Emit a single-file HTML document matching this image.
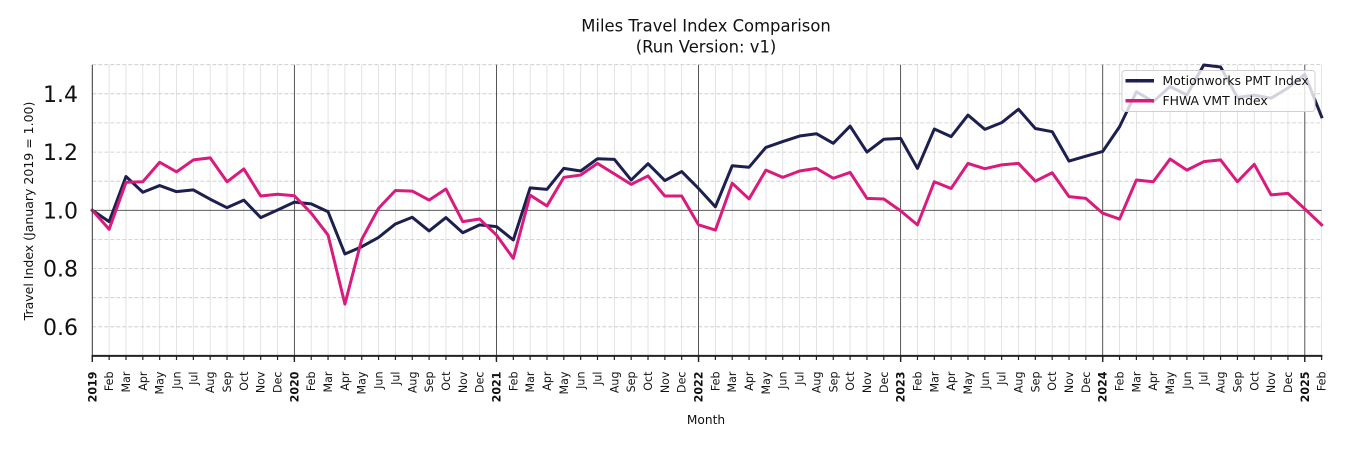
<!DOCTYPE html>
<html>
<head>
<meta charset="utf-8">
<style>
html,body{margin:0;padding:0;background:#fff;}
svg{display:block;font-family:"DejaVu Sans","Liberation Sans",sans-serif;}
.m{font-size:11.1px;fill:#111;text-anchor:end;}
.y{font-size:11.1px;fill:#111;text-anchor:end;font-weight:bold;}
</style>
</head>
<body>
<svg width="1350" height="450" viewBox="0 0 1350 450" xmlns="http://www.w3.org/2000/svg">
<rect width="1350" height="450" fill="#fff"/>

<!-- title -->
<text x="706" y="31.5" font-size="16.4" text-anchor="middle" fill="#111">Miles Travel Index Comparison</text>
<text x="706" y="52.3" font-size="16.4" text-anchor="middle" fill="#111">(Run Version: v1)</text>

<!-- vertical month grid lines (data coords) -->
<g transform="matrix(16.84 0 0 -291.2 92.3 501.5)" stroke="#dcdcdc" stroke-width="0.8" fill="none">
<path vector-effect="non-scaling-stroke" d="M1 0.5V1.5M2 0.5V1.5M3 0.5V1.5M4 0.5V1.5M5 0.5V1.5M6 0.5V1.5M7 0.5V1.5M8 0.5V1.5M9 0.5V1.5M10 0.5V1.5M11 0.5V1.5M13 0.5V1.5M14 0.5V1.5M15 0.5V1.5M16 0.5V1.5M17 0.5V1.5M18 0.5V1.5M19 0.5V1.5M20 0.5V1.5M21 0.5V1.5M22 0.5V1.5M23 0.5V1.5M25 0.5V1.5M26 0.5V1.5M27 0.5V1.5M28 0.5V1.5M29 0.5V1.5M30 0.5V1.5M31 0.5V1.5M32 0.5V1.5M33 0.5V1.5M34 0.5V1.5M35 0.5V1.5M37 0.5V1.5M38 0.5V1.5M39 0.5V1.5M40 0.5V1.5M41 0.5V1.5M42 0.5V1.5M43 0.5V1.5M44 0.5V1.5M45 0.5V1.5M46 0.5V1.5M47 0.5V1.5M49 0.5V1.5M50 0.5V1.5M51 0.5V1.5M52 0.5V1.5M53 0.5V1.5M54 0.5V1.5M55 0.5V1.5M56 0.5V1.5M57 0.5V1.5M58 0.5V1.5M59 0.5V1.5M61 0.5V1.5M62 0.5V1.5M63 0.5V1.5M64 0.5V1.5M65 0.5V1.5M66 0.5V1.5M67 0.5V1.5M68 0.5V1.5M69 0.5V1.5M70 0.5V1.5M71 0.5V1.5M73 0.5V1.5"/>
</g>

<!-- horizontal dashed grid -->
<g stroke="#c8c8c8" stroke-width="0.8" stroke-dasharray="4 2" fill="none">
<line x1="92.3" y1="64.7" x2="1321.6" y2="64.7"/>
<line x1="92.3" y1="93.8" x2="1321.6" y2="93.8"/>
<line x1="92.3" y1="122.9" x2="1321.6" y2="122.9"/>
<line x1="92.3" y1="152.1" x2="1321.6" y2="152.1"/>
<line x1="92.3" y1="181.2" x2="1321.6" y2="181.2"/>
<line x1="92.3" y1="239.4" x2="1321.6" y2="239.4"/>
<line x1="92.3" y1="268.5" x2="1321.6" y2="268.5"/>
<line x1="92.3" y1="297.7" x2="1321.6" y2="297.7"/>
<line x1="92.3" y1="326.8" x2="1321.6" y2="326.8"/>
</g>

<!-- year lines and 1.0 baseline -->
<g stroke="#444" stroke-width="0.9">
<line x1="294.4" y1="64.7" x2="294.4" y2="355.9"/>
<line x1="496.5" y1="64.7" x2="496.5" y2="355.9"/>
<line x1="698.5" y1="64.7" x2="698.5" y2="355.9"/>
<line x1="900.6" y1="64.7" x2="900.6" y2="355.9"/>
<line x1="1102.7" y1="64.7" x2="1102.7" y2="355.9"/>
<line x1="1304.8" y1="64.7" x2="1304.8" y2="355.9"/>
<line x1="92.3" y1="210.3" x2="1321.6" y2="210.3"/>
</g>

<!-- series -->
<g transform="matrix(16.84 0 0 -291.2 92.3 501.5)" fill="none" stroke-linejoin="round" stroke-linecap="square">
<polyline vector-effect="non-scaling-stroke" stroke="#1d1f4f" stroke-width="3" points="0,1.000 1,0.961 2,1.116 3,1.062 4,1.085 5,1.064 6,1.070 7,1.038 8,1.009 9,1.035 10,0.975 11,1.001 12,1.028 13,1.022 14,0.995 15,0.850 16,0.875 17,0.907 18,0.953 19,0.976 20,0.929 21,0.975 22,0.923 23,0.950 24,0.944 25,0.898 26,1.077 27,1.072 28,1.144 29,1.135 30,1.177 31,1.175 32,1.104 33,1.160 34,1.102 35,1.133 36,1.075 37,1.012 38,1.153 39,1.148 40,1.216 41,1.236 42,1.255 43,1.263 44,1.230 45,1.289 46,1.200 47,1.244 48,1.247 49,1.144 50,1.279 51,1.253 52,1.327 53,1.278 54,1.301 55,1.347 56,1.281 57,1.270 58,1.169 59,1.186 60,1.202 61,1.287 62,1.407 63,1.373 64,1.425 65,1.396 66,1.499 67,1.492 68,1.388 69,1.395 70,1.385 71,1.420 72,1.467 73,1.321"/>
<polyline vector-effect="non-scaling-stroke" stroke="#d81b7d" stroke-width="3" points="0,1.000 1,0.935 2,1.096 3,1.098 4,1.165 5,1.132 6,1.173 7,1.180 8,1.098 9,1.142 10,1.049 11,1.055 12,1.050 13,0.990 14,0.915 15,0.678 16,0.900 17,1.007 18,1.068 19,1.066 20,1.035 21,1.073 22,0.961 23,0.970 24,0.915 25,0.835 26,1.052 27,1.015 28,1.113 29,1.121 30,1.161 31,1.125 32,1.089 33,1.118 34,1.049 35,1.049 36,0.950 37,0.932 38,1.093 39,1.039 40,1.138 41,1.113 42,1.135 43,1.144 44,1.110 45,1.130 46,1.041 47,1.039 48,0.998 49,0.950 50,1.098 51,1.075 52,1.161 53,1.143 54,1.156 55,1.161 56,1.100 57,1.129 58,1.047 59,1.041 60,0.990 61,0.970 62,1.104 63,1.098 64,1.176 65,1.138 66,1.167 67,1.173 68,1.098 69,1.158 70,1.053 71,1.058 72,1.005 73,0.950"/>
</g>

<!-- spines -->
<line x1="92.3" y1="64.7" x2="92.3" y2="356" stroke="#333" stroke-width="1"/>
<line x1="91.5" y1="355.9" x2="1322.4" y2="355.9" stroke="#222" stroke-width="2"/>

<!-- x ticks -->
<line x1="91.7" y1="358" x2="1323" y2="358" stroke="#222" stroke-width="4" stroke-dasharray="1.2 15.64"/>
<line x1="91.6" y1="359" x2="1310" y2="359" stroke="#222" stroke-width="6" stroke-dasharray="1.4 200.68"/>

<!-- y tick labels -->
<g font-size="22" fill="#111" text-anchor="end">
<text x="78" y="94.1" dy="0.36em">1.4</text>
<text x="78" y="152.3" dy="0.36em">1.2</text>
<text x="78" y="210.5" dy="0.36em">1.0</text>
<text x="78" y="268.7" dy="0.36em">0.8</text>
<text x="78" y="327" dy="0.36em">0.6</text>
</g>

<!-- y axis label -->
<text transform="translate(33,211) rotate(-90)" font-size="12.5" text-anchor="middle" fill="#111">Travel Index (January 2019 = 1.00)</text>

<!-- x axis label -->
<text x="706" y="424" font-size="12.2" text-anchor="middle" fill="#111">Month</text>

<!-- x tick labels -->
<g>
<text class="y" transform="translate(92.3,371.5) rotate(-90)" dy="0.36em">2019</text>
<text class="m" transform="translate(109.1,371.5) rotate(-90)" dy="0.36em">Feb</text>
<text class="m" transform="translate(126.0,371.5) rotate(-90)" dy="0.36em">Mar</text>
<text class="m" transform="translate(142.8,371.5) rotate(-90)" dy="0.36em">Apr</text>
<text class="m" transform="translate(159.7,371.5) rotate(-90)" dy="0.36em">May</text>
<text class="m" transform="translate(176.5,371.5) rotate(-90)" dy="0.36em">Jun</text>
<text class="m" transform="translate(193.3,371.5) rotate(-90)" dy="0.36em">Jul</text>
<text class="m" transform="translate(210.2,371.5) rotate(-90)" dy="0.36em">Aug</text>
<text class="m" transform="translate(227.0,371.5) rotate(-90)" dy="0.36em">Sep</text>
<text class="m" transform="translate(243.9,371.5) rotate(-90)" dy="0.36em">Oct</text>
<text class="m" transform="translate(260.7,371.5) rotate(-90)" dy="0.36em">Nov</text>
<text class="m" transform="translate(277.5,371.5) rotate(-90)" dy="0.36em">Dec</text>
<text class="y" transform="translate(294.4,371.5) rotate(-90)" dy="0.36em">2020</text>
<text class="m" transform="translate(311.2,371.5) rotate(-90)" dy="0.36em">Feb</text>
<text class="m" transform="translate(328.1,371.5) rotate(-90)" dy="0.36em">Mar</text>
<text class="m" transform="translate(344.9,371.5) rotate(-90)" dy="0.36em">Apr</text>
<text class="m" transform="translate(361.7,371.5) rotate(-90)" dy="0.36em">May</text>
<text class="m" transform="translate(378.6,371.5) rotate(-90)" dy="0.36em">Jun</text>
<text class="m" transform="translate(395.4,371.5) rotate(-90)" dy="0.36em">Jul</text>
<text class="m" transform="translate(412.3,371.5) rotate(-90)" dy="0.36em">Aug</text>
<text class="m" transform="translate(429.1,371.5) rotate(-90)" dy="0.36em">Sep</text>
<text class="m" transform="translate(445.9,371.5) rotate(-90)" dy="0.36em">Oct</text>
<text class="m" transform="translate(462.8,371.5) rotate(-90)" dy="0.36em">Nov</text>
<text class="m" transform="translate(479.6,371.5) rotate(-90)" dy="0.36em">Dec</text>
<text class="y" transform="translate(496.5,371.5) rotate(-90)" dy="0.36em">2021</text>
<text class="m" transform="translate(513.3,371.5) rotate(-90)" dy="0.36em">Feb</text>
<text class="m" transform="translate(530.1,371.5) rotate(-90)" dy="0.36em">Mar</text>
<text class="m" transform="translate(547.0,371.5) rotate(-90)" dy="0.36em">Apr</text>
<text class="m" transform="translate(563.8,371.5) rotate(-90)" dy="0.36em">May</text>
<text class="m" transform="translate(580.7,371.5) rotate(-90)" dy="0.36em">Jun</text>
<text class="m" transform="translate(597.5,371.5) rotate(-90)" dy="0.36em">Jul</text>
<text class="m" transform="translate(614.3,371.5) rotate(-90)" dy="0.36em">Aug</text>
<text class="m" transform="translate(631.2,371.5) rotate(-90)" dy="0.36em">Sep</text>
<text class="m" transform="translate(648.0,371.5) rotate(-90)" dy="0.36em">Oct</text>
<text class="m" transform="translate(664.9,371.5) rotate(-90)" dy="0.36em">Nov</text>
<text class="m" transform="translate(681.7,371.5) rotate(-90)" dy="0.36em">Dec</text>
<text class="y" transform="translate(698.5,371.5) rotate(-90)" dy="0.36em">2022</text>
<text class="m" transform="translate(715.4,371.5) rotate(-90)" dy="0.36em">Feb</text>
<text class="m" transform="translate(732.2,371.5) rotate(-90)" dy="0.36em">Mar</text>
<text class="m" transform="translate(749.1,371.5) rotate(-90)" dy="0.36em">Apr</text>
<text class="m" transform="translate(765.9,371.5) rotate(-90)" dy="0.36em">May</text>
<text class="m" transform="translate(782.7,371.5) rotate(-90)" dy="0.36em">Jun</text>
<text class="m" transform="translate(799.6,371.5) rotate(-90)" dy="0.36em">Jul</text>
<text class="m" transform="translate(816.4,371.5) rotate(-90)" dy="0.36em">Aug</text>
<text class="m" transform="translate(833.3,371.5) rotate(-90)" dy="0.36em">Sep</text>
<text class="m" transform="translate(850.1,371.5) rotate(-90)" dy="0.36em">Oct</text>
<text class="m" transform="translate(866.9,371.5) rotate(-90)" dy="0.36em">Nov</text>
<text class="m" transform="translate(883.8,371.5) rotate(-90)" dy="0.36em">Dec</text>
<text class="y" transform="translate(900.6,371.5) rotate(-90)" dy="0.36em">2023</text>
<text class="m" transform="translate(917.5,371.5) rotate(-90)" dy="0.36em">Feb</text>
<text class="m" transform="translate(934.3,371.5) rotate(-90)" dy="0.36em">Mar</text>
<text class="m" transform="translate(951.1,371.5) rotate(-90)" dy="0.36em">Apr</text>
<text class="m" transform="translate(968.0,371.5) rotate(-90)" dy="0.36em">May</text>
<text class="m" transform="translate(984.8,371.5) rotate(-90)" dy="0.36em">Jun</text>
<text class="m" transform="translate(1001.7,371.5) rotate(-90)" dy="0.36em">Jul</text>
<text class="m" transform="translate(1018.5,371.5) rotate(-90)" dy="0.36em">Aug</text>
<text class="m" transform="translate(1035.3,371.5) rotate(-90)" dy="0.36em">Sep</text>
<text class="m" transform="translate(1052.2,371.5) rotate(-90)" dy="0.36em">Oct</text>
<text class="m" transform="translate(1069.0,371.5) rotate(-90)" dy="0.36em">Nov</text>
<text class="m" transform="translate(1085.9,371.5) rotate(-90)" dy="0.36em">Dec</text>
<text class="y" transform="translate(1102.7,371.5) rotate(-90)" dy="0.36em">2024</text>
<text class="m" transform="translate(1119.5,371.5) rotate(-90)" dy="0.36em">Feb</text>
<text class="m" transform="translate(1136.4,371.5) rotate(-90)" dy="0.36em">Mar</text>
<text class="m" transform="translate(1153.2,371.5) rotate(-90)" dy="0.36em">Apr</text>
<text class="m" transform="translate(1170.1,371.5) rotate(-90)" dy="0.36em">May</text>
<text class="m" transform="translate(1186.9,371.5) rotate(-90)" dy="0.36em">Jun</text>
<text class="m" transform="translate(1203.7,371.5) rotate(-90)" dy="0.36em">Jul</text>
<text class="m" transform="translate(1220.6,371.5) rotate(-90)" dy="0.36em">Aug</text>
<text class="m" transform="translate(1237.4,371.5) rotate(-90)" dy="0.36em">Sep</text>
<text class="m" transform="translate(1254.3,371.5) rotate(-90)" dy="0.36em">Oct</text>
<text class="m" transform="translate(1271.1,371.5) rotate(-90)" dy="0.36em">Nov</text>
<text class="m" transform="translate(1287.9,371.5) rotate(-90)" dy="0.36em">Dec</text>
<text class="y" transform="translate(1304.8,371.5) rotate(-90)" dy="0.36em">2025</text>
<text class="m" transform="translate(1321.6,371.5) rotate(-90)" dy="0.36em">Feb</text>
</g>

<!-- legend -->
<rect x="1122" y="70.5" width="193" height="41" rx="3" ry="3" fill="#fff" fill-opacity="0.8" stroke="#d0d0d0" stroke-width="1"/>
<line x1="1125.5" y1="80.8" x2="1154" y2="80.8" stroke="#1d1f4f" stroke-width="3.5"/>
<line x1="1125.5" y1="100.8" x2="1154" y2="100.8" stroke="#d81b7d" stroke-width="3.5"/>
<text x="1162.5" y="85.2" font-size="12.4" fill="#111">Motionworks PMT Index</text>
<text x="1162.5" y="105.2" font-size="12.4" fill="#111">FHWA VMT Index</text>
</svg>
</body>
</html>
